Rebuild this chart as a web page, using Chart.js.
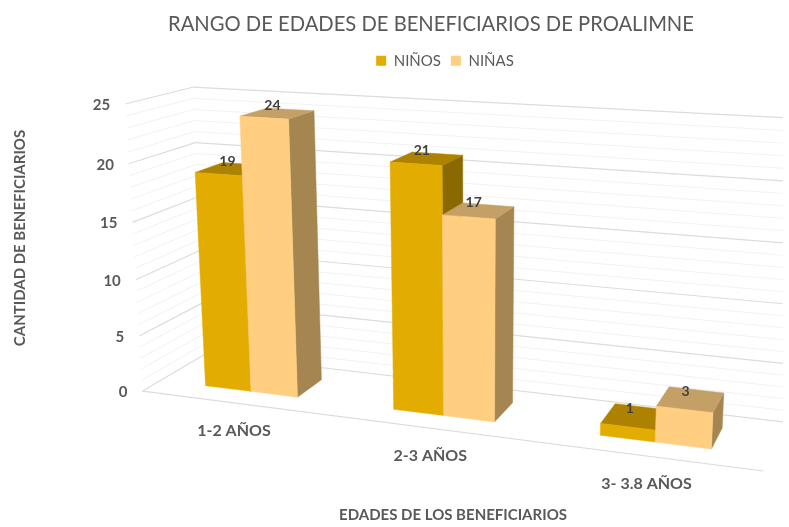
<!DOCTYPE html>
<html lang="es">
<head>
<meta charset="UTF-8">
<title>Rango de edades</title>
<script src="https://cdn.jsdelivr.net/npm/chart.js"></script>
<style>
    body, html { margin: 0; padding: 0; background: #fff; }
    #chartContainer { width: 789px; height: 527px; }
</style>
</head>
<body>
<div id="chartContainer"><canvas id="edadesChart" width="789" height="527"></canvas></div>
<script>
const categories = ['1-2 AÑOS', '2-3 AÑOS', '3- 3.8 AÑOS'];
const ninos = [19, 21, 1];
const ninas = [24, 17, 3];

const FONT = 'Lato, Carlito, sans-serif';
const GRAY = '#595959';
const FACES = [
    { front: '#E3AC00', side: '#8A6A00', top: '#AD8200' },
    { front: '#FFCE80', side: '#A58650', top: '#C49F66' }
];
// bars sit between these two depths of the floor
const BAR_Z0 = 0.28;
const BAR_Z1 = 0.72;

// points of the 3D box as seen in the picture: [x, value/max, depth, px, py]
const corners = [
    [0, 0, 0, 143, 390], [1, 0, 0, 763, 472],
    [0, 0, 1, 205, 355], [1, 0, 1, 783, 422],
    [0, 1, 0, 125, 104], [0, 1, 1, 193, 87], [1, 1, 1, 800, 120],
    [0, 0.2, 0, 139.5, 336], [0, 0.4, 0, 136, 280], [0, 0.6, 0, 132, 222], [0, 0.8, 0, 128.5, 164],
    [1, 0.2, 1, 786, 363], [1, 0.4, 1, 790, 304], [1, 0.6, 1, 793, 243], [1, 0.8, 1, 797, 181]
];

// least squares fit of the perspective camera to the corners
function fitCamera(points) {
    const rows = [], rhs = [];
    points.forEach(([x, y, z, px, py]) => {
        const u = px / 1000, v = py / 1000;
        rows.push([x, y, z, 1, 0, 0, 0, 0, -u * x, -u * y, -u * z]); rhs.push(u);
        rows.push([0, 0, 0, 0, x, y, z, 1, -v * x, -v * y, -v * z]); rhs.push(v);
    });
    const n = 11;
    const m = [];
    for (let i = 0; i < n; i++) {
        m.push([]);
        for (let j = 0; j < n; j++) m[i].push(rows.reduce((s, r) => s + r[i] * r[j], 0) + (i === j ? 1e-9 : 0));
        m[i].push(rows.reduce((s, r, k) => s + r[i] * rhs[k], 0));
    }
    for (let c = 0; c < n; c++) {
        let best = c;
        for (let r = c + 1; r < n; r++) if (Math.abs(m[r][c]) > Math.abs(m[best][c])) best = r;
        [m[c], m[best]] = [m[best], m[c]];
        for (let r = 0; r < n; r++) {
            if (r === c) continue;
            const f = m[r][c] / m[c][c];
            for (let k = c; k <= n; k++) m[r][k] -= f * m[c][k];
        }
    }
    return m.map((row, i) => row[n] / row[i]);
}
const cam = fitCamera(corners);

function project(x, y, z) {
    const w = cam[8] * x + cam[9] * y + cam[10] * z + 1;
    return [
        1000 * (cam[0] * x + cam[1] * y + cam[2] * z + cam[3]) / w,
        1000 * (cam[4] * x + cam[5] * y + cam[6] * z + cam[7]) / w
    ];
}

function fillQuad(ctx, pts, color) {
    ctx.beginPath();
    pts.forEach((p, i) => i ? ctx.lineTo(p[0], p[1]) : ctx.moveTo(p[0], p[1]));
    ctx.closePath();
    ctx.fillStyle = color;
    ctx.strokeStyle = color;
    ctx.lineWidth = 0.5;
    ctx.fill();
    ctx.stroke();
}

function drawLine(ctx, a, b, color, width) {
    ctx.beginPath();
    ctx.moveTo(a[0], a[1]);
    ctx.lineTo(b[0], b[1]);
    ctx.strokeStyle = color;
    ctx.lineWidth = width;
    ctx.stroke();
}

const perspectivePlugin = {
    id: 'perspective',
    afterLayout(chart) {
        // legend sits a bit right of the title in the original
        chart.legend.left += 14;
        chart.legend.right += 14;
    },
    beforeDatasetsDraw(chart) {
        const { ctx, chartArea: area, scales: { x: xScale, y: yScale } } = chart;
        const nx = px => (px - area.left) / area.width;
        const ny = v => (area.bottom - yScale.getPixelForValue(v)) / area.height;

        // walls: minor lines first so the major ones stay on top
        ctx.save();
        ctx.beginPath();
        ctx.rect(0, 0, 783, chart.height);
        ctx.clip();
        const ticks = yScale.ticks.slice().sort((a, b) => (a.value % 5 === 0) - (b.value % 5 === 0));
        ticks.forEach(t => {
            const v = ny(t.value);
            const major = t.value % 5 === 0;
            const color = major ? '#DCDCDC' : '#F2F2F2';
            const width = major ? 1.2 : 1;
            drawLine(ctx, project(0, v, 0), project(0, v, 1), color, width);
            drawLine(ctx, project(0, v, 1), project(1, v, 1), color, width);
        });
        drawLine(ctx, project(0, 0, 0), project(1, 0, 0), '#DCDCDC', 1.2);
        ctx.restore();

        ctx.save();
        // bars, left to right
        categories.forEach((cat, i) => {
            chart.data.datasets.forEach((ds, d) => {
                const el = chart.getDatasetMeta(d).data[i];
                const x0 = nx(el.x - el.width / 2), x1 = nx(el.x + el.width / 2);
                const v = ny(ds.data[i]);
                const face = FACES[d];
                fillQuad(ctx, [project(x1, 0, BAR_Z0), project(x1, 0, BAR_Z1), project(x1, v, BAR_Z1), project(x1, v, BAR_Z0)], face.side);
                fillQuad(ctx, [project(x0, v, BAR_Z0), project(x1, v, BAR_Z0), project(x1, v, BAR_Z1), project(x0, v, BAR_Z1)], face.top);
                fillQuad(ctx, [project(x0, 0, BAR_Z0), project(x1, 0, BAR_Z0), project(x1, v, BAR_Z0), project(x0, v, BAR_Z0)], face.front);
            });
        });

        // value labels
        ctx.font = 'bold 14px ' + FONT;
        ctx.fillStyle = '#404040';
        ctx.textAlign = 'center';
        ctx.textBaseline = 'middle';
        chart.data.datasets.forEach((ds, d) => {
            chart.getDatasetMeta(d).data.forEach((el, i) => {
                const p = project(nx(el.x), ny(ds.data[i]), (BAR_Z0 + BAR_Z1) / 2);
                ctx.fillText(ds.data[i], p[0] - 5, p[1] - 8);
            });
        });

        // y tick labels along the front edge of the left wall
        ctx.font = 'bold 15px ' + FONT;
        ctx.fillStyle = GRAY;
        ctx.textAlign = 'right';
        yScale.ticks.filter(t => t.value % 5 === 0).forEach(t => {
            const p = project(0, ny(t.value), 0);
            ctx.fillText(t.value, p[0] - 15, p[1] + 1);
        });

        // category labels under the front edge of the floor
        ctx.font = 'bold 16px ' + FONT;
        ctx.textAlign = 'center';
        categories.forEach((cat, i) => {
            const p = project(nx(xScale.getPixelForValue(i)), 0, 0);
            ctx.fillText(cat, p[0], p[1] + 28);
        });

        // axis titles
        ctx.font = 'bold 15px ' + FONT;
        ctx.fillText('EDADES DE LOS BENEFICIARIOS', 453, 515);
        ctx.translate(20, 238);
        ctx.rotate(-Math.PI / 2);
        ctx.fillText('CANTIDAD DE BENEFICIARIOS', 0, 0);
        ctx.restore();
        return false;
    }
};

new Chart(document.getElementById('edadesChart'), {
    type: 'bar',
    data: {
        labels: categories,
        datasets: [
            { label: 'NIÑOS', data: ninos, backgroundColor: FACES[0].front },
            { label: 'NIÑAS', data: ninas, backgroundColor: FACES[1].front }
        ]
    },
    options: {
        responsive: false,
        animation: false,
        categoryPercentage: 0.5,
        barPercentage: 1,
        layout: { padding: { left: 73, top: 10, bottom: 40 } },
        plugins: {
            title: {
                display: true,
                text: 'RANGO DE EDADES DE BENEFICIARIOS DE PROALIMNE',
                color: GRAY,
                font: { family: FONT, size: 20.2, weight: 'normal' },
                padding: { top: 2, bottom: 7 }
            },
            legend: {
                position: 'top',
                labels: {
                    color: GRAY,
                    boxWidth: 10,
                    boxHeight: 10,
                    padding: 10,
                    font: { family: FONT, size: 15 }
                }
            },
            tooltip: { enabled: false }
        },
        scales: {
            x: { display: false },
            y: { display: false, min: 0, max: 25, ticks: { stepSize: 1, autoSkip: false, maxTicksLimit: 30 } }
        }
    },
    plugins: [perspectivePlugin]
});
</script>
</body>
</html>
